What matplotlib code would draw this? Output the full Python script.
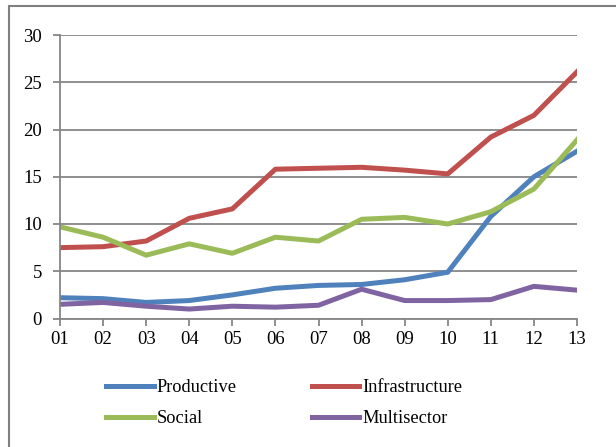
import matplotlib.pyplot as plt
from matplotlib.patches import Rectangle

# values
years = ['01', '02', '03', '04', '05', '06', '07', '08', '09', '10', '11', '12', '13']
productive = [2.2, 2.1, 1.7, 1.9, 2.5, 3.2, 3.5, 3.6, 4.1, 4.9, 10.8, 15.0, 17.7]
infrastructure = [7.5, 7.6, 8.2, 10.6, 11.6, 15.8, 15.9, 16.0, 15.7, 15.3, 19.2, 21.5, 26.1]
social = [9.7, 8.6, 6.7, 7.9, 6.9, 8.6, 8.2, 10.5, 10.7, 10.0, 11.3, 13.7, 18.9]
multisector = [1.5, 1.7, 1.3, 1.0, 1.3, 1.2, 1.4, 3.1, 1.9, 1.9, 2.0, 3.4, 3.0]
yticks = [0, 5, 10, 15, 20, 25, 30]

plt.rcParams['font.family'] = ['Liberation Serif', 'DejaVu Serif']
plt.rcParams['font.size'] = 13.5

fig = plt.figure(figsize=(6.16, 4.47), dpi=100)
ax = fig.add_axes([60/616, 1-318.5/447, (577-60)/616, (318.5-35)/447])

x = range(len(years))
lw = 3.6
l1, = ax.plot(x, productive, color='#4F81BD', lw=lw, label='Productive')
l2, = ax.plot(x, infrastructure, color='#C0504D', lw=lw, label='Infrastructure')
l3, = ax.plot(x, social, color='#9BBB59', lw=lw, label='Social')
l4, = ax.plot(x, multisector, color='#8064A2', lw=lw, label='Multisector')

grid = '#868686'
ax.set_xlim(0, len(years) - 1)
ax.set_ylim(0, 30)
ax.set_yticks(yticks)
ax.set_xticks(list(x))
ax.set_xticklabels(years)
ax.yaxis.grid(True, color=grid, lw=1.3)
ax.set_axisbelow(True)
for s in ['top', 'right']:
    ax.spines[s].set_visible(False)
for s in ['left', 'bottom']:
    ax.spines[s].set_color(grid)
    ax.spines[s].set_linewidth(1.3)
ax.tick_params(axis='both', color=grid, width=1.3, length=5, direction='out', pad=4)
ax.tick_params(axis='y', pad=8)

# order so the two-column legend reads row-wise like the original
fig.legend([l1, l3, l2, l4], ['Productive', 'Social', 'Infrastructure', 'Multisector'],
           ncol=2, loc='center', bbox_to_anchor=(0.461, 0.098), frameon=False,
           handlelength=2.6, handletextpad=0.15, columnspacing=4.1,
           labelspacing=0.75, fontsize=13.2)

# outer chart border (cropped on right and bottom)
fig.patches.append(Rectangle((9/616, -0.1), 1.2, 1.1 - 6/447, transform=fig.transFigure,
                             fill=False, edgecolor='#808080', lw=1.5))

fig.savefig('out.png', dpi=100)
